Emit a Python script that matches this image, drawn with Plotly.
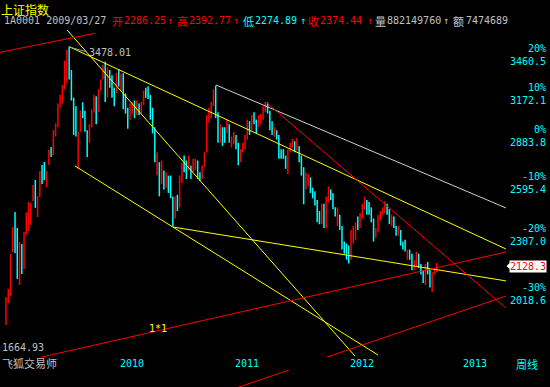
import math
import pandas as pd
import plotly.graph_objects as go

# ---------------- data (weekly bars, Shanghai Composite) ----------------
high = [1977, 2013, 2178, 2315, 2395, 2310, 2238, 2228, 2289, 2393,
        2450, 2444, 2545, 2574, 2483, 2627, 2663, 2681, 2627, 2755,
        2773, 2882, 2925, 3060, 3120, 3190, 3370, 3455, 3478, 3300,
        3100, 3040, 2870, 3010, 3068, 3010, 2880, 2920, 3020, 3120,
        3110, 3160, 3230, 3340, 3361, 3320, 3300, 3260, 3170, 3280,
        3306, 3270, 3275, 3130, 3030, 3060, 3070, 3080, 3080, 3060,
        3070, 3150, 3170, 3181, 3120, 3030, 2900, 2740, 2680, 2690,
        2630, 2620, 2600, 2600, 2480, 2480, 2490, 2600, 2675, 2720,
        2690, 2720, 2660, 2700, 2700, 2690, 2620, 2660, 2740, 2980,
        3030, 3070, 3160, 3186, 3000, 2920, 2900, 2900, 2950, 2920,
        2840, 2870, 2850, 2800, 2760, 2800, 2850, 2950, 2940, 2980,
        3000, 2950, 2980, 2990, 3040, 3070, 3067, 3010, 2940, 2900,
        2880, 2850, 2760, 2760, 2720, 2760, 2800, 2826, 2810, 2830,
        2780, 2720, 2650, 2620, 2610, 2590, 2530, 2510, 2460, 2400,
        2440, 2440, 2480, 2536, 2520, 2500, 2420, 2420, 2380, 2320,
        2240, 2230, 2220, 2300, 2320, 2340, 2370, 2390, 2440, 2478,
        2460, 2450, 2420, 2360, 2310, 2380, 2400, 2420, 2453, 2440,
        2410, 2380, 2370, 2320, 2320, 2300, 2240, 2250, 2200, 2200,
        2180, 2150, 2190, 2180, 2130, 2100, 2130, 2140, 2110, 2090,
        2110, 2135]
low = [1856, 1951, 1981, 2188, 2183, 2059, 2031, 2082, 2106, 2275,
       2294, 2327, 2455, 2417, 2368, 2477, 2551, 2574, 2534, 2663,
       2711, 2722, 2840, 2900, 3030, 3060, 3160, 3200, 3230, 3080,
       2850, 2840, 2639, 2870, 2960, 2870, 2712, 2800, 2900, 3000,
       2920, 3000, 3150, 3230, 3070, 3100, 3170, 3100, 3040, 3130,
       3180, 3150, 3020, 2990, 2890, 2950, 2990, 2960, 2980, 2980,
       2990, 3050, 3100, 3090, 2950, 2860, 2680, 2600, 2481, 2550,
       2520, 2530, 2500, 2470, 2319, 2360, 2400, 2420, 2557, 2620,
       2580, 2630, 2580, 2620, 2630, 2580, 2570, 2580, 2650, 2740,
       2930, 2960, 3040, 2960, 2800, 2800, 2780, 2800, 2860, 2800,
       2770, 2790, 2760, 2661, 2680, 2740, 2760, 2820, 2850, 2880,
       2920, 2860, 2900, 2920, 2950, 3000, 2990, 2880, 2850, 2840,
       2820, 2700, 2700, 2700, 2640, 2610, 2740, 2770, 2740, 2750,
       2680, 2600, 2437, 2520, 2540, 2500, 2470, 2430, 2340, 2330,
       2330, 2310, 2307, 2450, 2460, 2410, 2370, 2320, 2300, 2200,
       2180, 2150, 2132, 2150, 2230, 2250, 2300, 2310, 2360, 2410,
       2380, 2380, 2340, 2240, 2260, 2290, 2350, 2380, 2390, 2380,
       2330, 2320, 2310, 2270, 2270, 2220, 2200, 2190, 2150, 2150,
       2100, 2100, 2120, 2110, 2080, 2040, 2030, 2080, 2020, 1999,
       2080, 2090]
up = [1, 1, 1, 1, 0, 0, 1, 0, 1, 1,
      1, 1, 1, 0, 1, 1, 0, 0, 1, 1,
      0, 1, 1, 1, 1, 1, 1, 1, 0, 0,
      0, 0, 1, 1, 0, 0, 0, 1, 1, 1,
      0, 1, 1, 1, 0, 1, 0, 0, 0, 1,
      0, 1, 0, 0, 0, 1, 1, 0, 1, 0,
      1, 1, 0, 0, 0, 0, 0, 1, 0, 1,
      0, 1, 0, 0, 0, 1, 0, 1, 1, 0,
      0, 1, 0, 1, 1, 0, 0, 1, 1, 1,
      1, 1, 1, 0, 0, 1, 0, 0, 1, 0,
      1, 1, 0, 0, 1, 1, 1, 1, 0, 1,
      0, 0, 1, 1, 1, 1, 0, 0, 0, 1,
      0, 0, 0, 0, 0, 1, 1, 1, 0, 1,
      0, 0, 0, 1, 1, 0, 0, 0, 0, 0,
      1, 0, 1, 1, 0, 0, 0, 1, 0, 0,
      0, 0, 0, 1, 1, 1, 0, 1, 1, 1,
      0, 0, 0, 0, 1, 1, 1, 1, 1, 0,
      0, 1, 0, 0, 1, 0, 0, 0, 1, 0,
      0, 1, 1, 0, 0, 0, 1, 0, 0, 1,
      1, 1]

holidays = ["2009-01-30", "2010-02-19", "2011-10-07", "2012-01-27", "2012-10-05"]
year_labels = ["2010", "2011", "2012", "2013"]
year_first_week = ["2010-01-08", "2011-01-07", "2012-01-06", "2013-01-04"]

pct_labels = ["20%", "10%", "0%", "-10%", "-20%", "-30%"]
pct_prices = [3460.5, 3172.1, 2883.8, 2595.4, 2307.0, 2018.6]
last_price = 2128.3
peak_price = 3478.01
bottom_label = "1664.93"

# trend lines: (bar position, price) anchors
trend_lines = [
    dict(x=[27.05, 154.77], y=[3612, 1730], color="#ffff00"),
    dict(x=[28.0, 221.7], y=[3478, 2203], color="#ffff00"),
    dict(x=[30.6, 165.0], y=[2657, 1734], color="#ffff00"),
    dict(x=[74.06, 221.7], y=[2315, 2050], color="#ffff00"),
    dict(x=[93.1, 221.7], y=[3190, 2417], color="#d0d0d0"),
    dict(x=[115.7, 221.7], y=[3063, 1928], color="#ff0000"),
    dict(x=[-2.66, 221.7], y=[1690, 2188], color="#ff0000"),
    dict(x=[-2.66, 39.47], y=[3434, 3585], color="#ff0000"),
    dict(x=[99.3, 221.7], y=[1602, 1981], color="#ff0000"),
]

header_parts = [
    ("1A0001 2009/03/27", 3, "#c0c0c0", "mono"),
    ("开", 111, "#ff0000", "cjk"), ("2286.25", 123, "#ff0000", "mono"), ("↑", 166, "#ff0000", "mono"),
    ("高", 176, "#ff0000", "cjk"), ("2392.77", 188, "#ff0000", "mono"), ("↑", 232, "#ff0000", "mono"),
    ("低", 242, "#00ffff", "cjk"), ("2274.89", 254, "#00ffff", "mono"), ("↑", 299, "#00ffff", "mono"),
    ("收", 307, "#ff0000", "cjk"), ("2374.44", 319, "#ff0000", "mono"), ("↑", 366, "#ff0000", "mono"),
    ("量", 374, "#c0c0c0", "cjk"), ("882149760", 386, "#c0c0c0", "mono"), ("↑", 442, "#c0c0c0", "mono"),
    ("额", 452, "#c0c0c0", "cjk"), ("7474689", 465, "#c0c0c0", "mono"),
]

# ---------------- figure ----------------
W, H = 550, 387
ML, MR, MT, MB = 0, 44, 30, 0
PW, PH = W - ML - MR, H - MT - MB
MONO = "DejaVu Sans Mono"
CJK = "Noto Sans CJK SC"
RED, CYAN, GREY, YEL = "#ff0000", "#00ffff", "#c0c0c0", "#ffff00"

weeks = pd.date_range("2009-01-16", "2013-01-04", freq="W-FRI")
weeks = weeks[~weeks.isin(pd.to_datetime(holidays))]
pos = list(range(len(high)))
year_pos = [int(weeks.get_loc(pd.Timestamp(d))) for d in year_first_week]


def px(xp):
    return (xp - ML) / PW


def py(yp):
    return (H - MB - yp) / PH


fig = go.Figure()
for flag, color in ((1, RED), (0, CYAN)):
    xs, ys = [], []
    for i in pos:
        if up[i] == flag:
            xs += [i, i, None]
            ys += [low[i], high[i], None]
    fig.add_trace(go.Scatter(x=xs, y=ys, mode="lines", line=dict(color=color, width=1.5),
                             hoverinfo="skip", showlegend=False))

for ln in trend_lines:
    fig.add_trace(go.Scatter(x=ln["x"], y=ln["y"], mode="lines",
                             line=dict(color=ln["color"], width=1), hoverinfo="skip", showlegend=False))

ann = []


def text(t, x, y, color, size=10, family=MONO, xanchor="left", xref="paper", yref="paper",
         yanchor="middle", **kw):
    ann.append(dict(text=t, x=x, y=y, xref=xref, yref=yref, showarrow=False, xanchor=xanchor,
                    yanchor=yanchor, font=dict(family=family, size=size, color=color),
                    borderpad=0, **kw))


text("上证指数", px(0), py(0), YEL, size=12, family=CJK, yanchor="top")
for t, x0, c, f in header_parts:
    if f == "cjk":
        text(t, px(x0), py(20.5), c, size=11, family=CJK)
    else:
        text(t, px(x0), py(20.5), c, size=10, family=MONO)

for lab, p in zip(pct_labels, pct_prices):
    text(lab, px(547), math.log10(p), CYAN, xanchor="right", yref="y")
    text("%.1f" % p, px(547), math.log10(p), CYAN, xanchor="right", yref="y", yshift=-13)

text("%.1f" % last_price, px(547), math.log10(last_price), RED, xanchor="right", yref="y",
     yshift=-2, bgcolor="white")

text("%.2f" % peak_price, px(88), py(52.5), GREY)
text(bottom_label, px(1), py(347.5), GREY)
text("1*1", px(148), py(328), YEL)
text("飞狐交易师", px(1), py(363), GREY, size=11, family=CJK)
for lab, p in zip(year_labels, year_pos):
    text(lab, p, py(363), CYAN, xref="x")
text("周线", px(515), py(364), CYAN, size=11, family=CJK)

shapes = [
    dict(type="rect", xref="paper", yref="paper", x0=0, x1=1, y0=py(370), y1=py(357),
         fillcolor="black", line=dict(width=0), layer="above"),
    dict(type="line", xref="paper", yref="paper", x0=px(69.5), y0=py(47), x1=px(87), y1=py(52),
         line=dict(color="#a0a0a0", width=1), layer="above"),
    dict(type="path", xref="paper", yref="paper",
         path="M %f %f L %f %f L %f %f Z" % (px(506.5), py(266), px(512), py(261), px(512), py(271)),
         fillcolor="white", line=dict(width=0), layer="above"),
]

fig.update_layout(
    width=W, height=H, margin=dict(l=ML, r=MR, t=MT, b=MB),
    paper_bgcolor="black", plot_bgcolor="black", showlegend=False,
    xaxis=dict(range=[-2.661, 221.73], showgrid=False, zeroline=False, showticklabels=False,
               ticks="", fixedrange=True),
    yaxis=dict(type="log", range=[3.207717, 3.55770], showgrid=False, zeroline=False,
               showticklabels=False, ticks="", fixedrange=True),
    annotations=ann, shapes=shapes,
)

fig.write_html("out.html", config={"displayModeBar": False})

# remove the browser's default page margin so the chart sits at the window's corner
with open("out.html", encoding="utf-8") as fh:
    page = fh.read()
page = page.replace("<head>", "<head><style>html,body{margin:0;padding:0;background:#000;overflow:hidden}</style>", 1)
with open("out.html", "w", encoding="utf-8") as fh:
    fh.write(page)
